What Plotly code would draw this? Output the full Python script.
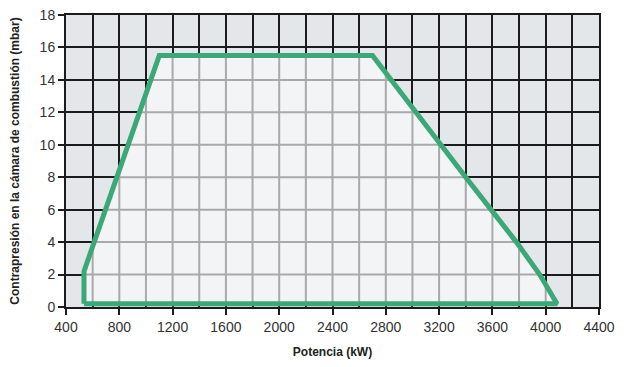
import plotly.graph_objects as go

# Data
power_kw = [535, 535, 1100, 2700, 3400, 3780, 3955, 4085, 535]
pressure_mbar = [0.2, 2.2, 15.5, 15.5, 8.0, 4.0, 2.0, 0.2, 0.2]
x_tick_vals = [400, 800, 1200, 1600, 2000, 2400, 2800, 3200, 3600, 4000, 4400]
x_tick_text = ["400", "800", "1200", "1600", "2000", "2400", "2800", "3200", "3600", "4000", "4400"]
y_tick_vals = [0, 2, 4, 6, 8, 10, 12, 14, 16, 18]
x_grid_step = 200
y_grid_step = 2

GREEN = "#3ba877"
OUT_BG = "#e4e7ea"
IN_BG = "#f3f4f6"
IN_GRID = "#a9a9a9"
OUT_GRID = "#1c1c1c"

edges = list(zip(zip(power_kw[:-1], pressure_mbar[:-1]), zip(power_kw[1:], pressure_mbar[1:])))


def clip(c, vertical):
    vals = []
    for (x1, y1), (x2, y2) in edges:
        a1, a2, b1, b2 = (x1, x2, y1, y2) if vertical else (y1, y2, x1, x2)
        if a1 != a2 and min(a1, a2) <= c <= max(a1, a2):
            t = (c - a1) / (a2 - a1)
            vals.append(b1 + t * (b2 - b1))
    if len(vals) < 2:
        return None
    return min(vals), max(vals)


gx, gy = [], []
xv = x_tick_vals[0] + x_grid_step
while xv < x_tick_vals[-1]:
    r = clip(xv, True)
    if r:
        gx += [xv, xv, None]
        gy += [r[0], r[1], None]
    xv += x_grid_step
yv = y_tick_vals[0] + y_grid_step
while yv < y_tick_vals[-1]:
    r = clip(yv, False)
    if r:
        gx += [r[0], r[1], None]
        gy += [yv, yv, None]
    yv += y_grid_step

fig = go.Figure()
fig.add_trace(go.Scatter(x=power_kw, y=pressure_mbar, mode="lines", fill="toself",
                         fillcolor=IN_BG, line=dict(width=0), hoverinfo="skip"))
fig.add_trace(go.Scatter(x=gx, y=gy, mode="lines", line=dict(color=IN_GRID, width=2),
                         hoverinfo="skip"))
fig.add_trace(go.Scatter(x=power_kw, y=pressure_mbar, mode="lines",
                         line=dict(color=GREEN, width=5)))

tick_font = dict(family="Liberation Sans, Arial, sans-serif", size=14, color="#333333")
title_font = dict(family="Liberation Sans, Arial, sans-serif", size=12, color="#222222")

fig.update_layout(
    width=638, height=367,
    margin=dict(l=58, r=47, t=7, b=68),
    paper_bgcolor="white",
    plot_bgcolor=OUT_BG,
    showlegend=False,
    xaxis=dict(
        range=[x_tick_vals[0], x_tick_vals[-1]],
        tickvals=x_tick_vals, ticktext=x_tick_text,
        showgrid=True, gridcolor=OUT_GRID, gridwidth=2,
        minor=dict(dtick=x_grid_step, tick0=x_tick_vals[0], showgrid=True,
                   gridcolor=OUT_GRID, gridwidth=2),
        showline=True, linecolor=OUT_GRID, linewidth=2, mirror=True,
        ticks="outside", ticklen=6, tickwidth=2, tickcolor=OUT_GRID,
        tickfont=tick_font, zeroline=False, automargin=False,
        ticklabeloverflow="allow",
        title=dict(text="<b>Potencia (kW)</b>", font=title_font, standoff=14),
    ),
    yaxis=dict(
        range=[y_tick_vals[0], y_tick_vals[-1]],
        tickvals=y_tick_vals,
        showgrid=True, gridcolor=OUT_GRID, gridwidth=2,
        showline=True, linecolor=OUT_GRID, linewidth=2, mirror=True,
        ticks="outside", ticklen=6, tickwidth=2, tickcolor=OUT_GRID,
        tickfont=tick_font, zeroline=False, automargin=False,
        ticklabeloverflow="allow",
        title=dict(text="<b>Contrapresión en la cámara de combustión (mbar)</b>",
                   font=title_font, standoff=18),
    ),
)

fig.write_html("out.html")
